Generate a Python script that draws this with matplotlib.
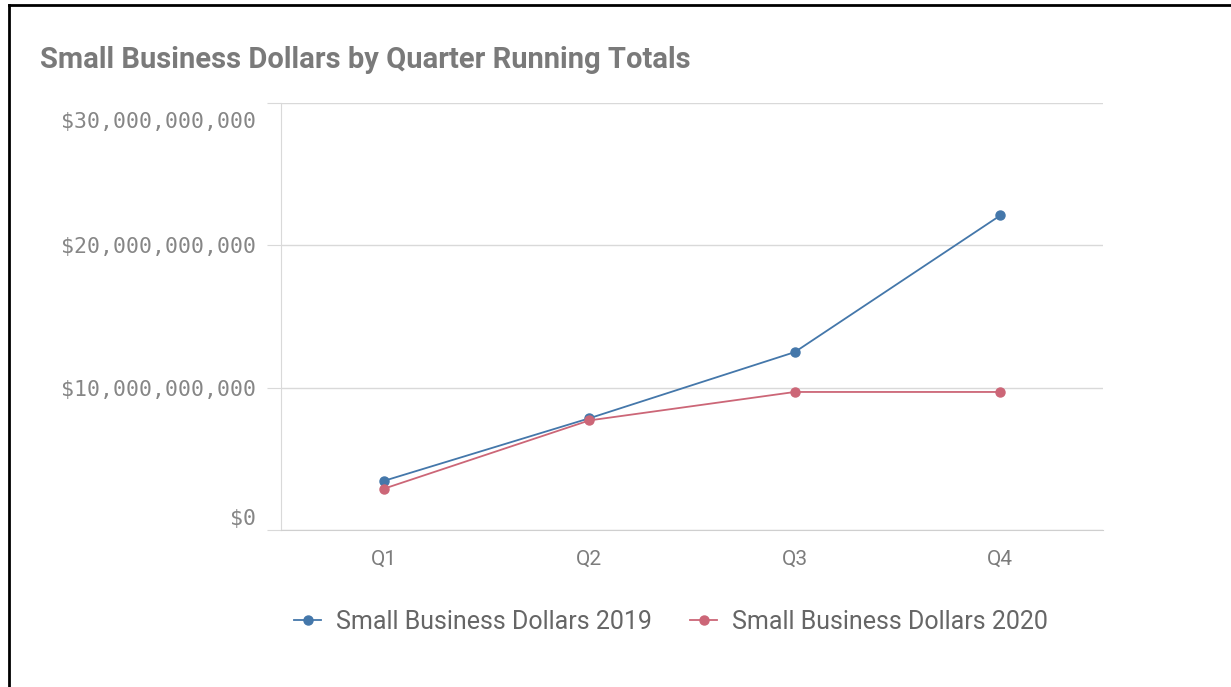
import matplotlib.pyplot as plt
import matplotlib.transforms as mtransforms
from matplotlib.lines import Line2D
from matplotlib.ticker import FuncFormatter

quarters = ["Q1", "Q2", "Q3", "Q4"]
dollars_2019 = [3.45e9, 7.85e9, 12.5e9, 22.1e9]
dollars_2020 = [2.9e9, 7.7e9, 9.7e9, 9.7e9]
y_ticks = [0, 10e9, 20e9, 30e9]

blue = "#4477aa"
red = "#cc6677"
grid_col = "#d9d9d9"
text_col = "#868686"

fig = plt.figure(figsize=(12.31, 6.87), dpi=100)
ax = fig.add_axes([0.2283, 0.2285, 0.896 - 0.2283, 0.850 - 0.2285])

x = list(range(len(quarters)))
ax.plot(x, dollars_2019, color=blue, lw=1.3, marker="o", ms=6.5, label="Small Business Dollars 2019", zorder=3)
ax.plot(x, dollars_2020, color=red, lw=1.3, marker="o", ms=6.5, label="Small Business Dollars 2020", zorder=3)

ax.set_xlim(-0.5, 3.5)
ax.set_ylim(0, 30e9)
ax.set_xticks(x)
ax.set_xticklabels(quarters, family="Roboto", fontsize=15, color="#7c7c7c")
ax.set_yticks(y_ticks)
ax.yaxis.set_major_formatter(FuncFormatter(lambda v, p: "${:,.0f}".format(v)))
ax.tick_params(axis="y", length=10, color=grid_col, pad=8)
ax.tick_params(axis="x", length=0, pad=14)
ax.grid(axis="y", color=grid_col, lw=1)
ax.set_axisbelow(True)
for s in ["top", "right"]:
    ax.spines[s].set_visible(False)
ax.spines["left"].set_color(grid_col)
ax.spines["bottom"].set_color("#cfcfcf")

fig.canvas.draw()
ylabels = ax.get_yticklabels()
for lab in ylabels:
    lab.set_family("DejaVu Sans Mono")
    lab.set_fontsize(15.5)
    lab.set_color(text_col)
# keep the end labels inside the plot range, like the original
ylabels[0].set_va("bottom")
ylabels[0].set_transform(ylabels[0].get_transform() + mtransforms.ScaledTranslation(0, 1 / 72, fig.dpi_scale_trans))
ylabels[-1].set_va("top")
ylabels[-1].set_transform(ylabels[-1].get_transform() + mtransforms.ScaledTranslation(0, -6.5 / 72, fig.dpi_scale_trans))

fig.text(40 / 1231, 1 - 60 / 687, "Small Business Dollars by Quarter Running Totals",
         family="Roboto", fontweight="bold", fontsize=21, color="#7a7a7a", va="center")

leg = fig.legend(loc="center", bbox_to_anchor=(671 / 1231, 1 - 622 / 687), ncol=2, frameon=False,
                 prop={"family": "Roboto", "size": 18}, handlelength=1.1,
                 columnspacing=1.5, handletextpad=0.6)
for t in leg.get_texts():
    t.set_color("#666666")

# frame lines along the top and left edges
fig.add_artist(Line2D([9 / 1231, 9 / 1231], [0, 1 - 5 / 687], transform=fig.transFigure, color="black", lw=2))
fig.add_artist(Line2D([9 / 1231, 1], [1 - 5 / 687, 1 - 5 / 687], transform=fig.transFigure, color="black", lw=2))

fig.savefig("out.png", dpi=100)
